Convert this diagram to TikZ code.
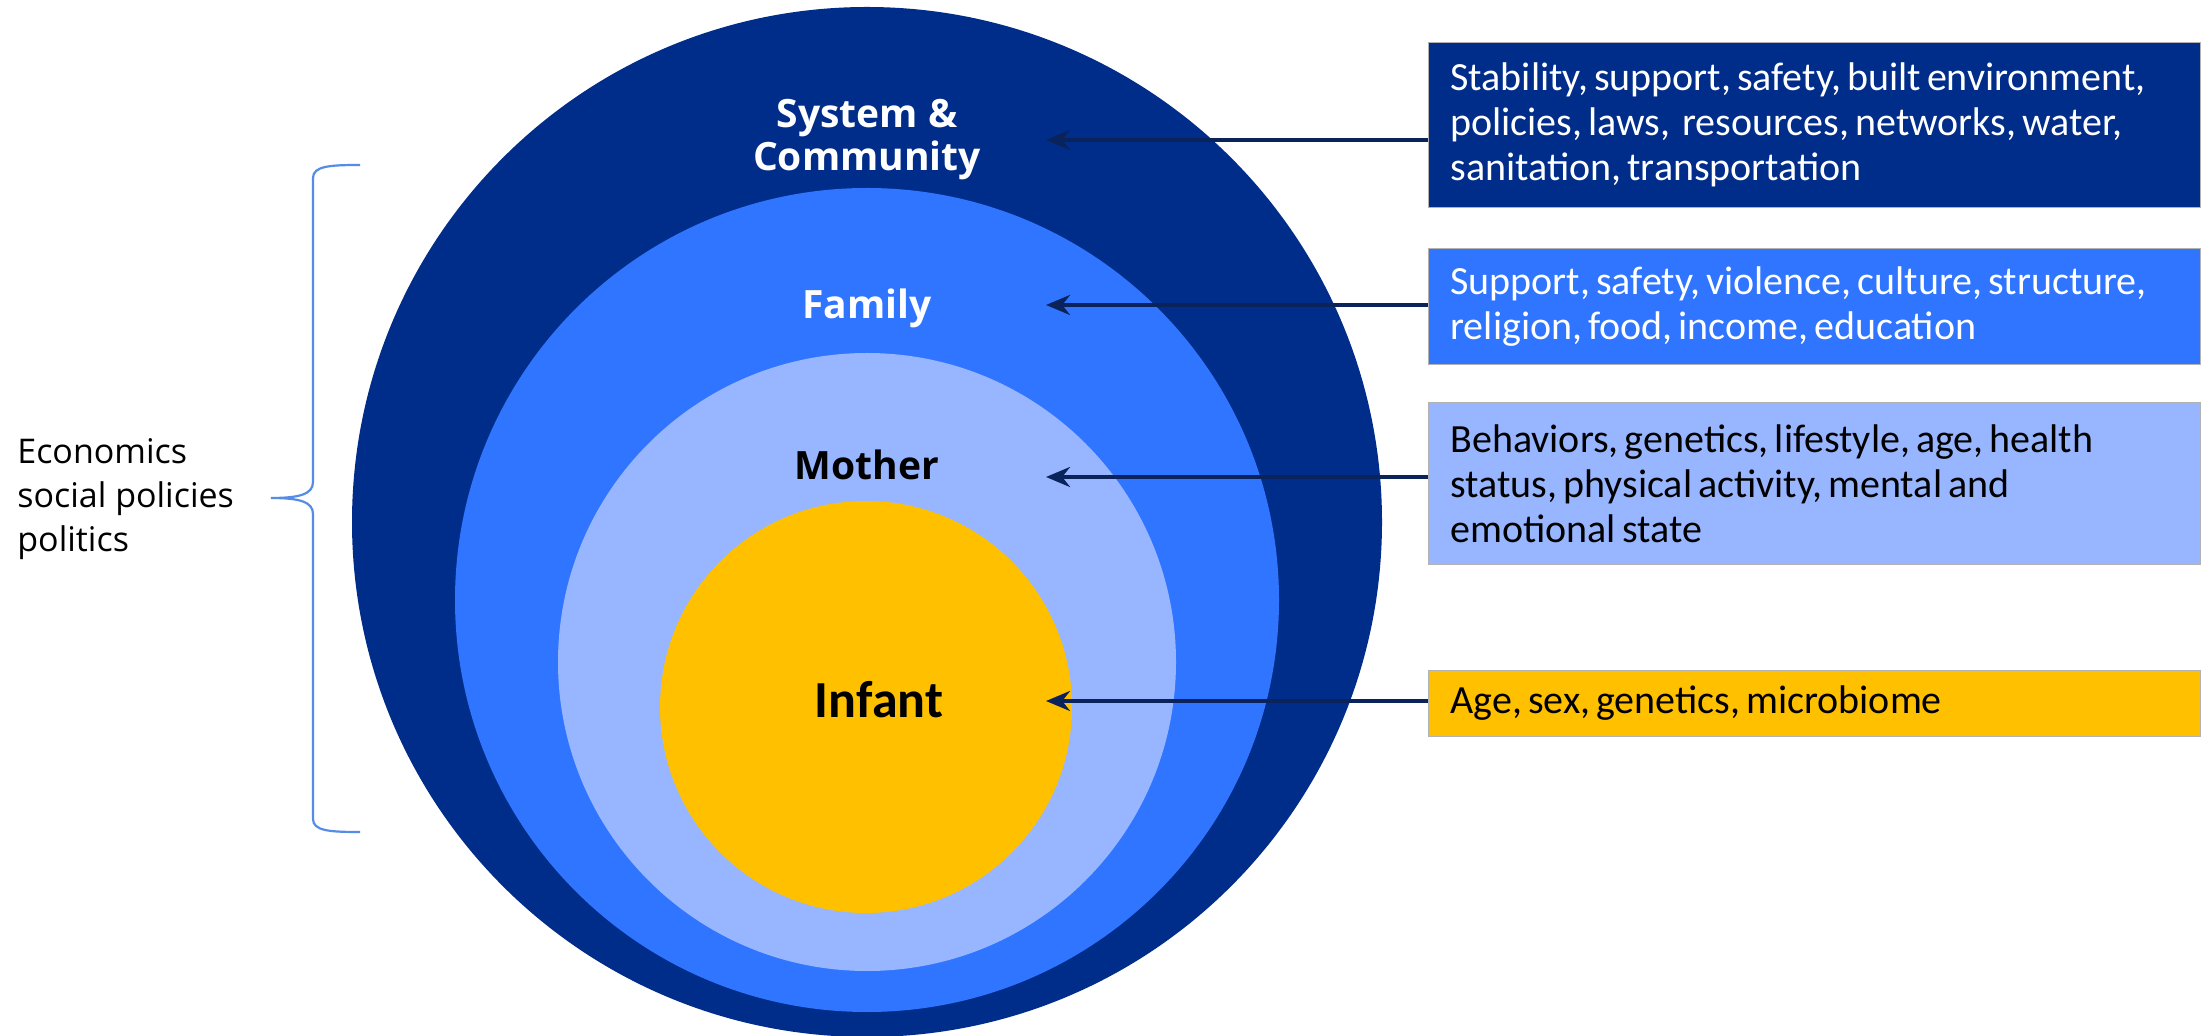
\documentclass[tikz,border=0pt]{standalone}
\usepackage{fontspec}
\setmainfont{Carlito}
\newfontfamily\opensans{Open Sans}
\usetikzlibrary{arrows.meta}
\definecolor{navy}{RGB}{0,45,137}
\definecolor{famblue}{RGB}{48,117,255}
\definecolor{motherblue}{RGB}{151,182,255}
\definecolor{infantgold}{RGB}{255,192,0}
\definecolor{arrownavy}{RGB}{10,35,90}
\definecolor{bracecol}{RGB}{86,140,230}
\newcommand\tightspaces{\spaceskip=3pt plus 1pt minus 0.5pt\relax}
\begin{document}
\begin{tikzpicture}[x=0.5pt,y=-0.5pt,
  ring/.style={circle,inner sep=0pt,outer sep=0pt},
  ringlabel/.style={font=\opensans\bfseries\fontsize{19.5pt}{21.5pt}\selectfont,align=center,inner sep=0pt},
  infobox/.style={anchor=north west,draw=gray!60,line width=0.5pt,inner xsep=11pt,inner ysep=0pt,
    text width=364pt,align=left,font=\fontsize{20pt}{22.5pt}\selectfont,
    execute at begin node=\tightspaces},
  pointer/.style={draw=arrownavy,line width=1.8pt,-{Stealth[length=12pt,width=10pt]}}
]
\useasboundingbox (0,0) rectangle (2211,1036);
\fill[white] (0,0) rectangle (2211,1036);
% rings
\node[ring,fill=navy,minimum size=515pt] (sys) at (867,522) {};
\node[ring,fill=famblue,minimum size=412pt] (fam) at (867,600) {};
\node[ring,fill=motherblue,minimum size=309pt] (mom) at (867,662) {};
\node[ring,fill=infantgold,minimum size=206pt] (inf) at (866,707) {};
% ring labels
\node[ringlabel,text=white] (syslab) at (867,140) {System \&\\Community};
\node[ringlabel,text=white] (famlab) at (867,308) {Family};
\node[ringlabel,text=black] (momlab) at (867,465) {Mother};
\node[font=\bfseries\fontsize{26pt}{30pt}\selectfont,inner sep=0pt] (inflab) at (879,700) {Infant};
% boxes
\node[infobox,fill=navy,text=white,minimum height=82.5pt] (b1) at (1428,42)
  {Stability, support, safety, built environment,\\policies, laws,\ \ resources, networks, water,\\sanitation, transportation};
\node[infobox,fill=famblue,text=white,minimum height=58pt] (b2) at (1428,248)
  {Support, safety, violence, culture, structure,\\religion, food, income, education};
\node[infobox,fill=motherblue,text=black,minimum height=81pt] (b3) at (1428,402)
  {Behaviors, genetics, lifestyle, age, health\\status, physical activity, mental and\\emotional state};
\node[infobox,fill=infantgold,text=black,minimum height=33pt] (b4) at (1428,670)
  {Age, sex, genetics, microbiome};
% arrow tips
\coordinate (t1) at (1046,140);
\coordinate (t2) at (1046,305);
\coordinate (t3) at (1046,477);
\coordinate (t4) at (1046,701);
\draw[pointer] (b1.west |- t1) -- (t1);
\draw[pointer] (b2.west |- t2) -- (t2);
\draw[pointer] (b3.west |- t3) -- (t3);
\draw[pointer] (b4.west |- t4) -- (t4);
% brace
\coordinate (bt) at (360,165);
\coordinate (bb) at (360,832);
\coordinate (bm) at (271,498);
\draw[bracecol,line width=1.1pt]
  (bt) .. controls (330,165) and (313,166) .. (313,178)
  -- (313,482) .. controls (313,494) and (300,498) .. (bm)
  .. controls (300,498) and (313,502) .. (313,514)
  -- (313,819) .. controls (313,831) and (330,832) .. (bb);
% left text
\node[anchor=west,align=left,inner sep=0pt,font=\opensans\fontsize{17pt}{22pt}\selectfont] (econ) at (17,499)
  {Economics\\social policies\\politics};
\end{tikzpicture}
\end{document}
